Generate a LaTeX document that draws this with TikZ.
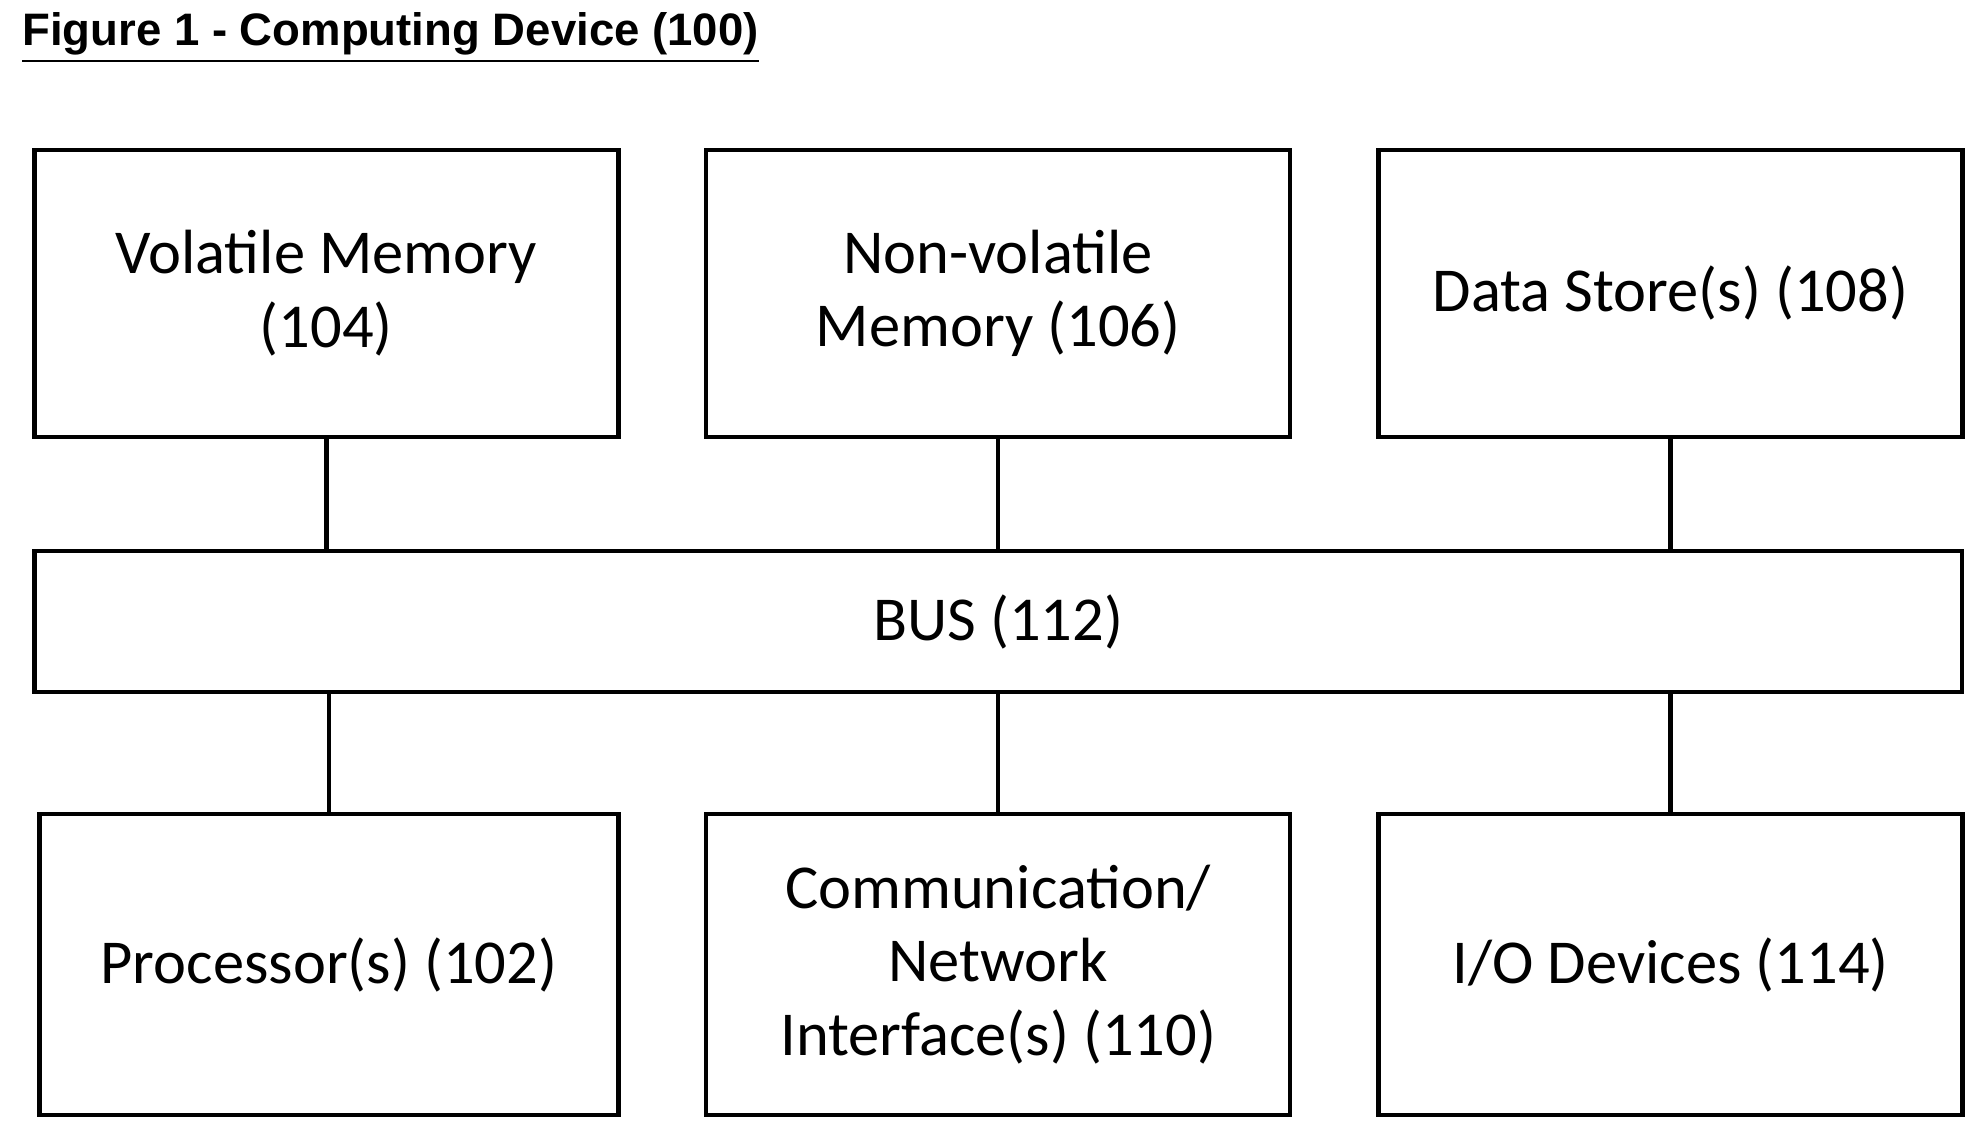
\documentclass[tikz,border=0pt]{standalone}
\usepackage{fontspec}
\setmainfont{Carlito}
\newfontfamily\titlefont{Liberation Sans}
\usetikzlibrary{positioning}

\begin{document}
\begin{tikzpicture}[x=1cm,y=1cm,
  unit/.style = {rectangle, draw, line width=1pt, minimum width=4.6cm, minimum height=2.26cm, align=center, font=\fontsize{14}{16.5}\selectfont, inner sep=0pt},
  low/.style  = {unit, minimum height=2.37cm},
  bus/.style  = {unit, minimum width=15.18cm, minimum height=1.11cm},
  link/.style = {line width=1pt}
  ]
  \useasboundingbox (0,0) rectangle (15.60,-8.91);
  % title
  \node[anchor=west, inner sep=0pt, font=\titlefont\bfseries\fontsize{10.2}{12}\selectfont] (title) at (0.17,-0.30) {\underline{Figure 1 - Computing Device (100)}};
  % memories and store
  \node[unit] (vm) at (2.57,-2.31) {Volatile Memory\\(104)};
  \node[unit] (nvm) at (7.86,-2.31) {Non-volatile\\Memory (106)};
  \node[unit] (ds) at (13.155,-2.31) {Data Store(s) (108)};
  % bus
  \node[bus] (bus) at (7.86,-4.895) {BUS (112)};
  % lower units
  \node[low, minimum width=4.56cm] (cpu) at (2.59,-7.595) {Processor(s) (102)};
  \node[low] (net) at (7.86,-7.595) {Communication/\\Network\\Interface(s) (110)};
  \node[low] (io) at (13.155,-7.595) {I/O Devices (114)};
  % connections
  \foreach \n in {vm,nvm,ds}
    \draw[link] (\n.south) -- (\n.south |- bus.north);
  \foreach \n in {cpu,net,io}
    \draw[link] (\n.north) -- (\n.north |- bus.south);
\end{tikzpicture}
\end{document}
